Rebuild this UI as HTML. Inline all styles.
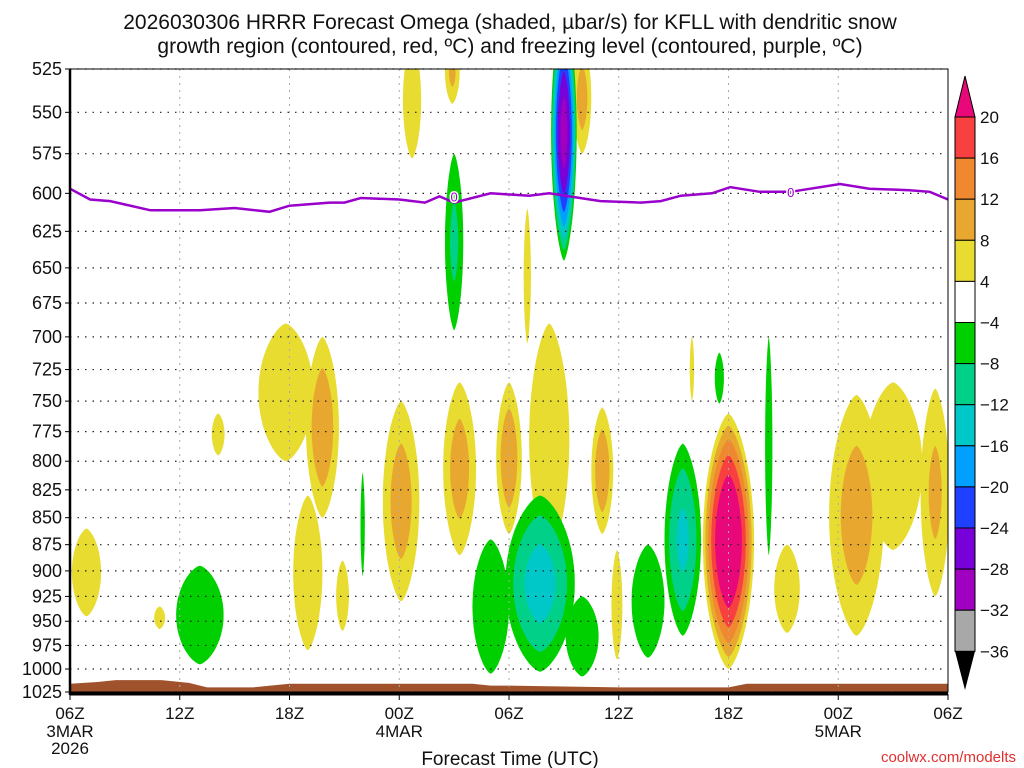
<!DOCTYPE html>
<html><head><meta charset="utf-8"><style>
html,body{margin:0;padding:0;background:#fff;width:1024px;height:768px;overflow:hidden}
svg{display:block;font-family:"Liberation Sans","DejaVu Sans",sans-serif}
</style></head><body>
<svg id="chart" width="1024" height="768" viewBox="0 0 1024 768">
<text x="510" y="29" font-size="21" text-anchor="middle" fill="#111">2026030306 HRRR Forecast Omega (shaded, µbar/s) for KFLL with dendritic snow</text>
<text x="510" y="53" font-size="21" text-anchor="middle" fill="#111">growth region (contoured, red, ºC) and freezing level (contoured, purple, ºC)</text>
<defs><clipPath id="pc"><rect x="70" y="69" width="878" height="623"/></clipPath></defs>
<g id="shade" clip-path="url(#pc)"></g>
<g id="grid"></g>
<g id="frz" clip-path="url(#pc)"></g>
<g id="axes"></g>
<g id="cbar"></g>
<text x="510" y="765" font-size="19" text-anchor="middle" fill="#111">Forecast Time (UTC)</text>
<text x="1016" y="762" font-size="15" text-anchor="end" fill="#e03030">coolwx.com/modelts</text>
</svg>
<script>
// ---- data ----
const yTicks=[525,550,575,600,625,650,675,700,725,750,775,800,825,850,875,900,925,950,975,1000,1025];
const xTickLabels=["06Z","12Z","18Z","00Z","06Z","12Z","18Z","00Z","06Z"];
const xTickHours=[0,6,12,18,24,30,36,42,48];
const dateLabels=[["3MAR","2026"],["4MAR"],["5MAR"]];
const dateHours=[0,18,42];
// omega features: time (h), top p, bottom p, half-width (h), peak (µbar/s)
const blobTime=[0.9,4.9,8.1,11.8,13.8,13.0,14.9,18.1,18.7,20.9,21.3,24.0,25.0,26.2,28.0,29.1,29.9,34.0,36.0,39.2,43.0,45.0,47.3,
 7.1,16.0,21.0,27.0,23.0,25.7,28.0,31.6,33.5,35.5,38.2];
const blobTop=[860,935,760,690,700,830,890,750,510,510,735,735,610,690,510,755,880,700,760,875,745,735,740,
 895,810,575,490,870,830,925,875,785,712,700];
const blobBot=[945,958,795,800,850,980,960,930,578,545,885,865,705,885,575,865,990,750,1000,962,965,880,925,
 995,905,695,645,1005,1003,1008,988,965,752,885];
const blobHalf=[0.8,0.3,0.35,1.5,0.9,0.8,0.35,1.0,0.5,0.4,0.9,0.7,0.2,1.1,0.5,0.6,0.3,0.12,1.4,0.7,1.5,1.6,0.8,
 1.3,0.12,0.5,0.7,1.0,1.9,0.9,0.9,1.0,0.25,0.2];
const blobPeak=[6,5,5,6,11,6,5,10,6,9,10,11,5,6,10,11,5,5,26,5.5,10,6,9,
 -7,-5,-9,-30,-6,-14,-7,-6,-13,-5,-6];
const posLevels=[4,8,12,16,20];
const posColors=["#e8dc30","#e8a830","#f08830","#f84040","#e8087a"];
const negLevels=[-4,-8,-12,-16,-20,-24,-28,-32];
const negColors=["#00d000","#00d088","#00c8c8","#00a0ff","#2040ff","#7800d8","#a000c0","#a8a8a8"];
const frzHours=[0,1.1,2.2,4.4,7.1,9.0,10.9,12.0,14.2,15.0,15.9,18.0,19.4,20.2,21.0,23.0,25.1,26.2,27.3,29.0,31.2,32.3,33.4,35.1,36.1,37.7,39.4,42.1,43.7,45.9,47.0,48];
const frzPres=[597,604,605,611,611,609.5,612,608,606,606,603,604,606,602,606,600,601.5,600,602,605,606,605,601.5,600,596,599,599,594,597,598,599,604];
const sfcHours=[0,1.5,2.5,5,6.5,7.5,10,12,13,22,23,24,30,36,37,48];
const sfcPres=[1016,1014,1012,1012,1015,1020,1020,1016,1016,1016,1018,1018,1020,1020,1016,1016];
// ---- scales ----
const X0=70,X1=948,Y0=69,Y1=692;
const xs=h=>X0+(X1-X0)*h/48;
const ys=p=>Y0+(Y1-Y0)*Math.log(p/525)/Math.log(1025/525);
const NS="http://www.w3.org/2000/svg";
function mk(tag,attrs,parent){const e=document.createElementNS(NS,tag);for(const k in attrs)e.setAttribute(k,attrs[k]);parent.appendChild(e);return e;}
const shade=document.getElementById('shade');
function blobPath(i,scale){
  const cx=xs(blobTime[i]),yt=ys(blobTop[i]),yb=ys(blobBot[i]);
  const cy=(yt+yb)/2,ry=(yb-yt)/2*scale,rx=blobHalf[i]*(X1-X0)/48*scale;
  let d="";
  for(let k=0;k<=60;k++){const a=k/60*2*Math.PI;const c=Math.cos(a),s=Math.sin(a);
    const px=cx+rx*Math.sign(c)*Math.pow(Math.abs(c),1.35),py=cy+ry*s;
    d+=(k?"L":"M")+px.toFixed(1)+","+py.toFixed(1);}
  return d+"Z";
}
for(let L=0;L<8;L++){
  for(let i=0;i<blobPeak.length;i++){
    const pk=blobPeak[i];
    let lev,col,thr;
    if(pk>0){if(L>=posLevels.length||pk<=posLevels[L])continue;lev=posLevels[L];col=posColors[L];thr=4;}
    else{if(L>=negLevels.length||pk>=negLevels[L])continue;lev=negLevels[L];col=negColors[L];thr=-4;}
    const sc=Math.sqrt((pk-lev)/(pk-thr));
    const p=mk('path',{d:blobPath(i,sc),fill:col},shade);
    
    
  }
}
// surface
{let d="M"+xs(0)+","+Y1;sfcHours.forEach((h,i)=>d+="L"+xs(h).toFixed(1)+","+ys(sfcPres[i]).toFixed(1));d+="L"+xs(48)+","+Y1+"Z";
 const p=mk('path',{d:d,fill:"#a0522d"},shade);
 
 }
// grid
const grid=document.getElementById('grid');
yTicks.forEach(p=>{const l=mk('line',{x1:X0,x2:X1,y1:ys(p),y2:ys(p),stroke:"#222","stroke-width":1.2,"stroke-dasharray":"1.5 6"},grid);
 
 });
xTickHours.forEach(h=>{const l=mk('line',{x1:xs(h),x2:xs(h),y1:Y0,y2:Y1,stroke:"#aaa","stroke-width":1,"stroke-dasharray":"2 5"},grid);
 
 });
// freezing level
const frz=document.getElementById('frz');
{let d="";frzHours.forEach((h,i)=>d+=(i?"L":"M")+xs(h).toFixed(1)+","+ys(frzPres[i]).toFixed(1));
 const p=mk('path',{d:d,fill:"none",stroke:"#9a00cc","stroke-width":2.5},frz);
 
 
 [21.0,39.4].forEach(h=>{let j=0;while(j<frzHours.length-1&&frzHours[j+1]<h)j++;
  const t=mk('text',{x:xs(h),y:ys(frzPres[j])+5,"font-size":13,"text-anchor":"middle",fill:"#9a00cc",stroke:"#fff","stroke-width":3,"paint-order":"stroke"},frz);t.textContent="0";
  
  });}
// axes
const ax=document.getElementById('axes');
mk('rect',{x:X0,y:Y0,width:X1-X0,height:Y1-Y0,fill:"none",stroke:"#000","stroke-width":1},ax);
mk('line',{x1:X0,x2:X0,y1:Y0,y2:Y1+3,stroke:"#000","stroke-width":2.5},ax);
mk('line',{x1:X0,x2:X1,y1:Y1+2,y2:Y1+2,stroke:"#000","stroke-width":3},ax);
mk('line',{x1:X1,x2:X1,y1:Y0,y2:Y1,stroke:"#000","stroke-width":1,"stroke-dasharray":"3 3"},ax);
yTicks.forEach(p=>{mk('line',{x1:X0-5,x2:X0,y1:ys(p),y2:ys(p),stroke:"#000"},ax);
 const t=mk('text',{x:X0-8,y:ys(p)+6,"font-size":18,"text-anchor":"end",fill:"#111"},ax);t.textContent=p;
 
 });
xTickHours.forEach((h,i)=>{mk('line',{x1:xs(h),x2:xs(h),y1:Y1+2,y2:Y1+8,stroke:"#000"},ax);
 const t=mk('text',{x:xs(h),y:719,"font-size":17,"text-anchor":"middle",fill:"#111"},ax);t.textContent=xTickLabels[i];
 
 });
dateHours.forEach((h,i)=>dateLabels[i].forEach((s,k)=>{const t=mk('text',{x:xs(h),y:737+k*17,"font-size":17,"text-anchor":"middle",fill:"#111"},ax);t.textContent=s;
 
 }));
// colorbar
const cb=document.getElementById('cbar');
const cbLabels=[20,16,12,8,4,-4,-8,-12,-16,-20,-24,-28,-32,-36];
const cbColors=["#f84040","#f08830","#e8a830","#e8dc30","#ffffff","#00d000","#00d088","#00c8c8","#00a0ff","#2040ff","#7800d8","#a000c0","#a8a8a8"];
const CX=955,CW=20,CT=117,CS=41.1;
mk('path',{d:`M${CX},${CT} L${CX+CW/2},76 L${CX+CW},${CT} Z`,fill:"#e8087a",stroke:"#000"},cb);
cbColors.forEach((c,i)=>{const r=mk('rect',{x:CX,y:CT+i*CS,width:CW,height:CS,fill:c,stroke:"#000","stroke-width":1},cb);
 
 });
const cbBot=CT+cbColors.length*CS;
mk('path',{d:`M${CX},${cbBot} L${CX+CW/2},690 L${CX+CW},${cbBot} Z`,fill:"#000"},cb);
cbLabels.forEach((v,i)=>{const t=mk('text',{x:980,y:CT+i*CS+6,"font-size":17,fill:"#111"},cb);t.textContent=v<0?"\u2212"+(-v):v;
 
 });
</script>
</body></html>
